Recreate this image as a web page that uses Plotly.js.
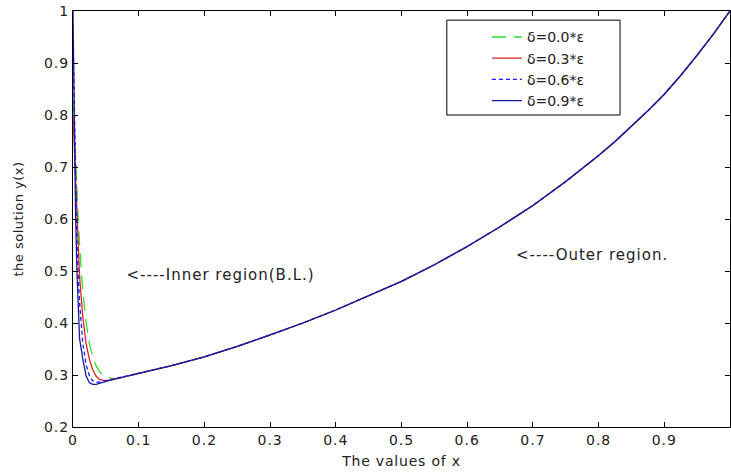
<!DOCTYPE html>
<html>
<head>
<meta charset="utf-8">
<script src="https://cdn.plot.ly/plotly-3.0.1.min.js"></script>
<style>
html,body{margin:0;padding:0;background:#fff;}
#chart{width:731px;height:475px;}
#chart .xtick text, #chart .ytick text { letter-spacing: 1px; }
#chart .g-xtitle text { letter-spacing: 0.8px; }
#chart .g-ytitle text { letter-spacing: 0.5px; }
#chart .annotation-text { letter-spacing: 1px; }
</style>
</head>
<body>
<div id="chart"></div>
<script>
// Boundary-layer x grid and per-case values
const xInner = [0, 0.002, 0.004, 0.006, 0.008, 0.01, 0.015, 0.02, 0.025, 0.03, 0.035, 0.04, 0.045, 0.05, 0.06, 0.07, 0.08];
const yDelta00 = [0.83, 0.78, 0.72, 0.66, 0.60, 0.55, 0.46, 0.40, 0.36, 0.335, 0.318, 0.307, 0.301, 0.297, 0.293, 0.294, 0.297];
const yDelta03 = [0.80, 0.74, 0.67, 0.60, 0.54, 0.49, 0.41, 0.36, 0.33, 0.31, 0.298, 0.292, 0.290, 0.289, 0.291, 0.294, 0.297];
const yDelta06 = [0.95, 0.80, 0.66, 0.56, 0.49, 0.44, 0.36, 0.32, 0.298, 0.289, 0.286, 0.286, 0.287, 0.289, 0.292, 0.294, 0.297];
const yDelta09 = [1.00, 0.75, 0.60, 0.50, 0.41, 0.37, 0.33, 0.298, 0.285, 0.282, 0.282, 0.284, 0.286, 0.288, 0.291, 0.294, 0.297];
// Outer region (common to all cases)
const xOuter = [0.1, 0.15, 0.2, 0.25, 0.3, 0.35, 0.4, 0.45, 0.5, 0.55, 0.6, 0.65, 0.7, 0.75, 0.8, 0.825, 0.85, 0.875, 0.9, 0.925, 0.95, 0.975, 1.0];
const yOuter = [0.303, 0.318, 0.335, 0.355, 0.377, 0.40, 0.425, 0.452, 0.48, 0.512, 0.547, 0.585, 0.626, 0.672, 0.722, 0.749, 0.778, 0.808, 0.84, 0.876, 0.915, 0.956, 1.0];
const seriesNames = ['δ=0.0*ε', 'δ=0.3*ε', 'δ=0.6*ε', 'δ=0.9*ε'];
const xTicks = [0, 0.1, 0.2, 0.3, 0.4, 0.5, 0.6, 0.7, 0.8, 0.9];
const yTicks = [0.2, 0.3, 0.4, 0.5, 0.6, 0.7, 0.8, 0.9, 1];

const innerSets = [yDelta00, yDelta03, yDelta06, yDelta09];
const styles = [
  {color: '#2ee02e', dash: '14px,8px'},
  {color: '#e02020', dash: 'solid'},
  {color: '#1a1aff', dash: '4px,3px'},
  {color: '#1a1a9e', dash: 'solid'}
];
const traces = innerSets.map((ys, i) => ({
  x: xInner.concat(xOuter),
  y: ys.concat(yOuter),
  type: 'scatter',
  mode: 'lines',
  name: seriesNames[i],
  line: {color: styles[i].color, dash: styles[i].dash, width: 1.3}
}));

const fam = 'DejaVu Sans, Verdana, sans-serif';
const font = {family: fam, size: 14, color: '#222'};
const axisCommon = {
  showgrid: false, zeroline: false, showline: true, linecolor: '#000', linewidth: 1,
  mirror: 'ticks', ticks: 'inside', ticklen: 5, tickcolor: '#000', tickfont: font
};
const layout = {
  width: 731, height: 475,
  margin: {l: 73, r: 1, t: 11, b: 48},
  paper_bgcolor: '#fff', plot_bgcolor: '#fff',
  font: font,
  showlegend: true,
  legend: {x: 0.630, y: 0.975, xanchor: 'left', yanchor: 'top', bgcolor: 'rgba(0,0,0,0)',
           borderwidth: 0, font: {family: fam, size: 14, color: '#222'}},
  shapes: [
    {type: 'rect', xref: 'paper', yref: 'paper', x0: 0.569, x1: 0.8326, y0: 0.75, y1: 0.978,
     line: {color: '#000', width: 1}, fillcolor: '#fff', layer: 'above'}
  ],
  xaxis: Object.assign({}, axisCommon, {range: [0, 1], tickvals: xTicks, ticktext: xTicks.map(String),
    title: {text: 'The values of x', font: {family: fam, size: 14, color: '#222'}, standoff: 9}}),
  yaxis: Object.assign({}, axisCommon, {range: [0.2, 1], tickvals: yTicks, ticktext: yTicks.map(String),
    title: {text: 'the solution y(x)', font: {family: fam, size: 13, color: '#222'}, standoff: 20}}),
  annotations: [
    {x: 0.096, y: 0.492, xref: 'x', yref: 'y', text: '<----Inner region(B.L.)', showarrow: false,
     xanchor: 'left', yanchor: 'middle', font: {family: fam, size: 15, color: '#222'}},
    {x: 0.685, y: 0.531, xref: 'x', yref: 'y', text: '<----Outer region.', showarrow: false,
     xanchor: 'left', yanchor: 'middle', font: {family: fam, size: 15, color: '#222'}}
  ]
};
Plotly.newPlot('chart', traces, layout, {displayModeBar: false, staticPlot: true});
</script>
</body>
</html>
